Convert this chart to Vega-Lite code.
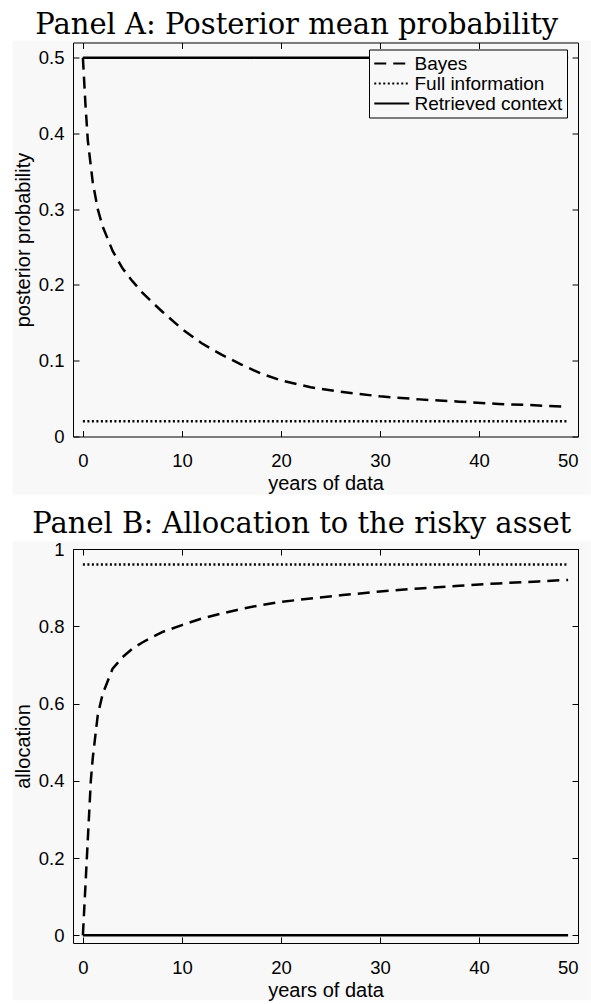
{
  "$schema": "https://vega.github.io/schema/vega-lite/v6.json",
  "background": "white",
  "padding": {"left": 12, "top": 10.5, "right": 4, "bottom": 2},
  "spacing": 14.5,
  "config": {
    "font": "Liberation Sans",
    "view": {"stroke": null},
    "axis": {
      "grid": false,
      "domainColor": "black", "tickColor": "black", "labelColor": "black", "titleColor": "black",
      "labelFont": "Liberation Sans", "titleFont": "Liberation Sans",
      "labelFontSize": 18.5, "titleFontSize": 20, "titleFontWeight": "normal",
      "tickSize": -6, "domainWidth": 1, "tickWidth": 1, "format": "~f"
    },
    "title": {"font": "DejaVu Serif", "fontSize": 29, "fontWeight": "normal", "color": "black", "anchor": "middle", "frame": "bounds", "baseline": "alphabetic", "offset": 1}
  },
  "datasets": {
    "A": [
      {"n": 0, "p": 0.5, "series": "Bayes"},
      {"n": 0.25, "p": 0.44, "series": "Bayes"},
      {"n": 0.5, "p": 0.39, "series": "Bayes"},
      {"n": 1, "p": 0.335, "series": "Bayes"},
      {"n": 1.5, "p": 0.3, "series": "Bayes"},
      {"n": 2, "p": 0.277, "series": "Bayes"},
      {"n": 3, "p": 0.245, "series": "Bayes"},
      {"n": 4, "p": 0.222, "series": "Bayes"},
      {"n": 5, "p": 0.205, "series": "Bayes"},
      {"n": 6, "p": 0.19, "series": "Bayes"},
      {"n": 7, "p": 0.177, "series": "Bayes"},
      {"n": 8, "p": 0.165, "series": "Bayes"},
      {"n": 10, "p": 0.142, "series": "Bayes"},
      {"n": 12, "p": 0.123, "series": "Bayes"},
      {"n": 14, "p": 0.108, "series": "Bayes"},
      {"n": 16, "p": 0.095, "series": "Bayes"},
      {"n": 18, "p": 0.083, "series": "Bayes"},
      {"n": 20, "p": 0.074, "series": "Bayes"},
      {"n": 23, "p": 0.065, "series": "Bayes"},
      {"n": 26, "p": 0.059, "series": "Bayes"},
      {"n": 30, "p": 0.053, "series": "Bayes"},
      {"n": 34, "p": 0.049, "series": "Bayes"},
      {"n": 38, "p": 0.046, "series": "Bayes"},
      {"n": 42, "p": 0.043, "series": "Bayes"},
      {"n": 46, "p": 0.041, "series": "Bayes"},
      {"n": 49, "p": 0.039, "series": "Bayes"},
      {"n": 0, "p": 0.02, "series": "Full information"},
      {"n": 49, "p": 0.02, "series": "Full information"},
      {"n": 0, "p": 0.5, "series": "Retrieved context"},
      {"n": 49, "p": 0.5, "series": "Retrieved context"}
    ],
    "B": [
      {"n": 0, "a": 0, "series": "Bayes"},
      {"n": 0.2, "a": 0.1, "series": "Bayes"},
      {"n": 0.4, "a": 0.2, "series": "Bayes"},
      {"n": 0.8, "a": 0.4, "series": "Bayes"},
      {"n": 1, "a": 0.46, "series": "Bayes"},
      {"n": 1.5, "a": 0.57, "series": "Bayes"},
      {"n": 2, "a": 0.625, "series": "Bayes"},
      {"n": 3, "a": 0.69, "series": "Bayes"},
      {"n": 4, "a": 0.72, "series": "Bayes"},
      {"n": 5, "a": 0.742, "series": "Bayes"},
      {"n": 6, "a": 0.758, "series": "Bayes"},
      {"n": 7, "a": 0.772, "series": "Bayes"},
      {"n": 8, "a": 0.785, "series": "Bayes"},
      {"n": 10, "a": 0.803, "series": "Bayes"},
      {"n": 12, "a": 0.82, "series": "Bayes"},
      {"n": 14, "a": 0.833, "series": "Bayes"},
      {"n": 16, "a": 0.845, "series": "Bayes"},
      {"n": 18, "a": 0.855, "series": "Bayes"},
      {"n": 20, "a": 0.863, "series": "Bayes"},
      {"n": 23, "a": 0.872, "series": "Bayes"},
      {"n": 26, "a": 0.88, "series": "Bayes"},
      {"n": 30, "a": 0.89, "series": "Bayes"},
      {"n": 34, "a": 0.898, "series": "Bayes"},
      {"n": 38, "a": 0.905, "series": "Bayes"},
      {"n": 42, "a": 0.911, "series": "Bayes"},
      {"n": 46, "a": 0.916, "series": "Bayes"},
      {"n": 49, "a": 0.92, "series": "Bayes"},
      {"n": 0, "a": 0.96, "series": "Full information"},
      {"n": 49, "a": 0.96, "series": "Full information"},
      {"n": 0, "a": 0, "series": "Retrieved context"},
      {"n": 49, "a": 0, "series": "Retrieved context"}
    ]
  },
  "vconcat": [
    {
      "width": 505, "height": 394,
      "title": {"text": "Panel A: Posterior mean probability", "dx": -5},
      "resolve": {"axis": {"x": "independent", "y": "independent"}},
      "layer": [
        {
          "data": {"values": [{"panel": "A"}]},
          "mark": {"type": "rect", "fill": "#f8f8f8"},
          "encoding": {
            "x": {"datum": -7.1, "type": "quantitative", "scale": {"domain": [-1, 50], "nice": false, "zero": false}, "axis": null},
            "x2": {"datum": 51.3},
            "y": {"datum": -0.077, "type": "quantitative", "scale": {"domain": [0, 0.52], "nice": false, "zero": false}, "axis": null},
            "y2": {"datum": 0.5222}
          }
        },
        {
          "data": {"name": "A"},
          "mark": {"type": "line", "strokeWidth": 2.5, "color": "black"},
          "encoding": {
            "x": {"field": "n", "type": "quantitative", "scale": {"domain": [-1, 50], "nice": false, "zero": false},
                  "axis": {"zindex": 2, "orient": "bottom", "values": [0, 10, 20, 30, 40, 50], "title": "years of data", "labelPadding": 21, "titlePadding": 5, "minExtent": 32, "maxExtent": 32}},
            "y": {"field": "p", "type": "quantitative", "scale": {"domain": [0, 0.52], "nice": false, "zero": false},
                  "axis": {"zindex": 2, "orient": "left", "values": [0, 0.1, 0.2, 0.3, 0.4, 0.5], "title": "posterior probability", "labelPadding": 15, "titlePadding": 4, "minExtent": 36, "maxExtent": 36}},
            "strokeDash": {"field": "series", "type": "nominal",
                  "scale": {"domain": ["Bayes", "Full information", "Retrieved context"], "range": [[12, 7], [2, 2.5], [1, 0]]},
                  "legend": {"orient": "none", "legendX": 296, "legendY": 7, "title": null, "symbolType": "M-1,0H3", "symbolSize": 306,
                             "symbolStrokeColor": "black", "symbolStrokeWidth": 2, "symbolFillColor": "transparent",
                             "labelFont": "Liberation Sans", "labelFontSize": 19, "labelColor": "black",
                             "strokeColor": "black", "fillColor": "#f8f8f8", "padding": 4, "rowPadding": -1, "labelOffset": 21.5}}
          }
        },
        {
          "data": {"name": "A"},
          "mark": {"type": "line", "opacity": 0},
          "encoding": {
            "x": {"field": "n", "type": "quantitative", "scale": {"domain": [-1, 50], "nice": false, "zero": false},
                  "axis": {"zindex": 2, "orient": "top", "values": [0, 10, 20, 30, 40, 50], "labels": false, "title": null}},
            "y": {"field": "p", "type": "quantitative", "scale": {"domain": [0, 0.52], "nice": false, "zero": false},
                  "axis": {"zindex": 2, "orient": "right", "values": [0, 0.1, 0.2, 0.3, 0.4, 0.5], "labels": false, "title": null}},
            "detail": {"field": "series", "type": "nominal"}
          }
        }
      ]
    },
    {
      "width": 505, "height": 394,
      "title": {"text": "Panel B: Allocation to the risky asset"},
      "resolve": {"axis": {"x": "independent", "y": "independent"}},
      "layer": [
        {
          "data": {"values": [{"panel": "B"}]},
          "mark": {"type": "rect", "fill": "#f8f8f8"},
          "encoding": {
            "x": {"datum": -7.1, "type": "quantitative", "scale": {"domain": [-1, 50], "nice": false, "zero": false}, "axis": null},
            "x2": {"datum": 51.3},
            "y": {"datum": -0.168, "type": "quantitative", "scale": {"domain": [-0.02, 1], "nice": false, "zero": false}, "axis": null},
            "y2": {"datum": 1.02}
          }
        },
        {
          "data": {"name": "B"},
          "mark": {"type": "line", "strokeWidth": 2.5, "color": "black"},
          "encoding": {
            "x": {"field": "n", "type": "quantitative", "scale": {"domain": [-1, 50], "nice": false, "zero": false},
                  "axis": {"zindex": 2, "orient": "bottom", "values": [0, 10, 20, 30, 40, 50], "title": "years of data", "labelPadding": 21, "titlePadding": 5, "minExtent": 32, "maxExtent": 32}},
            "y": {"field": "a", "type": "quantitative", "scale": {"domain": [-0.02, 1], "nice": false, "zero": false},
                  "axis": {"zindex": 2, "orient": "left", "values": [0, 0.2, 0.4, 0.6, 0.8, 1], "title": "allocation", "labelPadding": 15, "titlePadding": 4, "minExtent": 36, "maxExtent": 36}},
            "strokeDash": {"field": "series", "type": "nominal",
                  "scale": {"domain": ["Bayes", "Full information", "Retrieved context"], "range": [[12, 7], [2, 2.5], [1, 0]]},
                  "legend": null}
          }
        },
        {
          "data": {"name": "B"},
          "mark": {"type": "line", "opacity": 0},
          "encoding": {
            "x": {"field": "n", "type": "quantitative", "scale": {"domain": [-1, 50], "nice": false, "zero": false},
                  "axis": {"zindex": 2, "orient": "top", "values": [0, 10, 20, 30, 40, 50], "labels": false, "title": null}},
            "y": {"field": "a", "type": "quantitative", "scale": {"domain": [-0.02, 1], "nice": false, "zero": false},
                  "axis": {"zindex": 2, "orient": "right", "values": [0, 0.2, 0.4, 0.6, 0.8, 1], "labels": false, "title": null}},
            "detail": {"field": "series", "type": "nominal"}
          }
        }
      ]
    }
  ]
}
